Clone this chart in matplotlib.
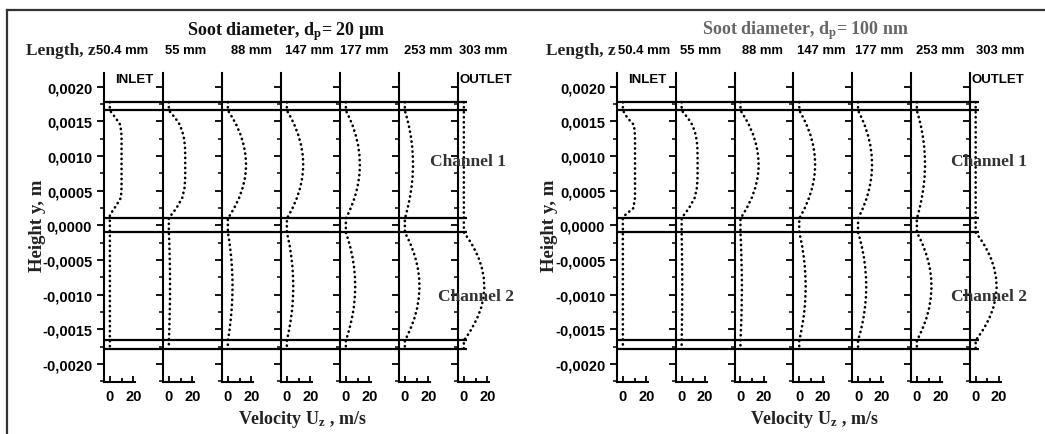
import matplotlib
matplotlib.use("Agg")
import matplotlib.pyplot as plt
from matplotlib.lines import Line2D
from matplotlib.ticker import FuncFormatter, MultipleLocator

plt.rcParams["mathtext.fontset"] = "custom"
plt.rcParams["mathtext.rm"] = "Liberation Serif:bold"
plt.rcParams["mathtext.it"] = "Liberation Serif:bold"
plt.rcParams["mathtext.bf"] = "Liberation Serif:bold"

SERIF = "Liberation Serif"
SANS = "Liberation Sans"

# ---------- data ----------
positions = ["50.4 mm", "55 mm", "88 mm", "147 mm", "177 mm", "253 mm", "303 mm"]
walls = [0.00178, 0.00166, 0.0001, -0.0001, -0.00166, -0.00178]

# y stations across channel 1 (upper) and channel 2 (lower), m
y_ch1 = [0.00166, 0.00155, 0.00145, 0.00130, 0.00115, 0.00100, 0.00085,
         0.00070, 0.00055, 0.00040, 0.00025, 0.00015, 0.00010]
y_ch2 = [-0.00010, -0.00020, -0.00030, -0.00045, -0.00060, -0.00075, -0.00090,
         -0.00105, -0.00120, -0.00135, -0.00150, -0.00160, -0.00166]
y_wall = [0.00178, 0.0, -0.00178]

# velocity U_z (m/s), soot d_p = 20 um
u1_20um = [
    [0, 5.0, 9.0, 10.0, 10.0, 10.0, 10.0, 10.0, 10.0, 9.5, 4.0, 0, 0],
    [0, 5.5, 9.5, 12.5, 13.8, 14.0, 14.0, 14.0, 13.5, 11.5, 6.5, 2.0, 0],
    [0, 4.1, 7.3, 11.1, 13.7, 15.2, 15.6, 14.8, 12.8, 9.7, 5.4, 1.9, 0],
    [0, 3.7, 6.5, 9.9, 12.3, 13.7, 14.0, 13.3, 11.5, 8.7, 4.9, 1.7, 0],
    [0, 3.1, 5.6, 8.5, 10.6, 11.7, 12.0, 11.4, 9.9, 7.5, 4.2, 1.5, 0],
    [0, 1.8, 3.3, 5.0, 6.2, 6.8, 7.0, 6.6, 5.7, 4.3, 2.4, 0.9, 0],
    [0, 0, 0, 0, 0, 0, 0, 0, 0, 0, 0, 0, 0],
]
u2_20um = [
    [0, 0, 0, 0, 0, 0, 0, 0, 0, 0, 0, 0, 0],
    [0, 0.3, 0.5, 0.7, 0.9, 1.0, 1.0, 1.0, 0.8, 0.6, 0.4, 0.2, 0],
    [0, 1.0, 1.8, 2.8, 3.5, 3.9, 4.0, 3.8, 3.3, 2.5, 1.5, 0.6, 0],
    [0, 1.3, 2.5, 3.8, 4.8, 5.3, 5.5, 5.2, 4.6, 3.5, 2.0, 0.8, 0],
    [0, 1.9, 3.6, 5.6, 7.0, 7.8, 8.0, 7.6, 6.7, 5.1, 2.9, 1.2, 0],
    [0, 3.0, 5.6, 8.7, 10.9, 12.2, 12.5, 11.9, 10.4, 8.0, 4.6, 1.9, 0],
    [0, 4.2, 7.8, 12.2, 15.2, 17.0, 17.5, 16.7, 14.6, 11.1, 6.4, 2.6, 0],
]

# velocity U_z (m/s), soot d_p = 100 nm
u1_100nm = [
    [0, 4.0, 9.5, 10.4, 10.4, 10.4, 10.4, 10.4, 10.4, 10.4, 9.0, 2.0, 0],
    [0, 5.3, 9.2, 12.2, 13.4, 13.6, 13.6, 13.6, 13.1, 11.2, 6.3, 1.9, 0],
    [0, 4.1, 7.3, 11.1, 13.7, 15.2, 15.6, 14.8, 12.8, 9.7, 5.4, 1.9, 0],
    [0, 3.6, 6.3, 9.7, 12.0, 13.3, 13.6, 12.9, 11.2, 8.4, 4.7, 1.7, 0],
    [0, 3.1, 5.6, 8.5, 10.6, 11.7, 12.0, 11.4, 9.9, 7.5, 4.2, 1.5, 0],
    [0, 1.8, 3.3, 5.0, 6.2, 6.8, 7.0, 6.6, 5.7, 4.3, 2.4, 0.9, 0],
    [0, 0, 0, 0, 0, 0, 0, 0, 0, 0, 0, 0, 0],
]
u2_100nm = [
    [0, 0, 0, 0, 0, 0, 0, 0, 0, 0, 0, 0, 0],
    [0, 0.1, 0.2, 0.3, 0.4, 0.5, 0.5, 0.5, 0.4, 0.3, 0.2, 0.1, 0],
    [0, 0.3, 0.5, 0.8, 1.0, 1.2, 1.2, 1.1, 1.0, 0.8, 0.4, 0.2, 0],
    [0, 1.3, 2.5, 3.8, 4.8, 5.3, 5.5, 5.2, 4.6, 3.5, 2.0, 0.8, 0],
    [0, 1.7, 3.1, 4.9, 6.1, 6.8, 7.0, 6.7, 5.8, 4.5, 2.6, 1.0, 0],
    [0, 3.0, 5.6, 8.7, 10.9, 12.2, 12.5, 11.9, 10.4, 8.0, 4.6, 1.9, 0],
    [0, 4.3, 8.0, 12.5, 15.6, 17.4, 17.9, 17.0, 14.9, 11.4, 6.6, 2.6, 0],
]

# ---------- layout (pixels of a 1045x435 canvas) ----------
W, H = 1045, 435
AX_TOP, AX_BOT, AX_W = 74, 383, 31
YLIM = (-0.00226, 0.0022)
XLIM = (-5, 21.5)


def fx(x):
    return x / W


def fy(y):
    return 1 - y / H


fig = plt.figure(figsize=(W / 100, H / 100), dpi=100)

# outer frame
fig.add_artist(Line2D([fx(7), fx(7)], [fy(11), 0], transform=fig.transFigure, color="#333", lw=1.6))
fig.add_artist(Line2D([fx(7), 1], [fy(11), fy(11)], transform=fig.transFigure, color="#333", lw=1.6))

panels = [
    dict(x0=104, step=59, u1=u1_20um, u2=u2_20um,
         title=r"Soot diameter, d$_{\rm p}$= 20 µm", tx=286, ty=32, tcol="#111",
         len_x=97, lab_x=[122, 186, 251, 309, 364, 428, 483],
         ylab_x=37, xlab_x=302, ch_x=(430, 438)),
    dict(x0=617, step=58.8, u1=u1_100nm, u2=u2_100nm,
         title=r"Soot diameter, d$_{\rm p}$= 100 nm", tx=806, ty=31, tcol="#666",
         len_x=617, lab_x=[644, 701, 762, 821, 879, 940, 1000],
         ylab_x=550, xlab_x=814, ch_x=(951, 951)),
]

fmt = FuncFormatter(lambda v, p: f"{v:.4f}".replace(".", ","))

for P in panels:
    x0, step = P["x0"], P["step"]
    # background axes for channel walls spanning all stations
    right = x0 + 6 * step + 9
    bg = fig.add_axes([fx(x0), fy(AX_BOT), fx(right - x0), (AX_BOT - AX_TOP) / H])
    bg.set_xlim(0, 1)
    bg.set_ylim(*YLIM)
    bg.axis("off")
    bg.hlines(walls, 0, 1, color="black", lw=1.6)

    for i in range(7):
        xl = x0 + i * step
        ax = fig.add_axes([fx(xl), fy(AX_BOT), AX_W / W, (AX_BOT - AX_TOP) / H])
        ax.patch.set_alpha(0)
        ax.set_xlim(*XLIM)
        ax.set_ylim(*YLIM)
        for s in ("top", "right"):
            ax.spines[s].set_visible(False)
        for s in ("left", "bottom"):
            ax.spines[s].set_linewidth(1.5)
        ys = [y_wall[0]] + y_ch1 + [y_wall[1]] + y_ch2 + [y_wall[2]]
        us = [0] + P["u1"][i] + [0] + P["u2"][i] + [0]
        ax.plot(us, ys, color="black", lw=1.9, linestyle=(0, (0.1, 1.8)),
                dash_capstyle="round", clip_on=False)
        ax.yaxis.set_major_locator(MultipleLocator(0.0005))
        ax.yaxis.set_minor_locator(MultipleLocator(0.00025))
        ax.xaxis.set_major_locator(MultipleLocator(20))
        ax.xaxis.set_minor_locator(MultipleLocator(10))
        ax.tick_params(axis="y", which="major", direction="out", length=5, width=1.3)
        ax.tick_params(axis="y", which="minor", direction="out", length=3, width=1.1)
        ax.tick_params(axis="x", which="both", direction="in", length=4, width=1.3, pad=5)
        ax.tick_params(axis="x", which="minor", length=3)
        for lab in ax.get_xticklabels():
            lab.set_fontfamily(SANS)
            lab.set_fontweight("bold")
            lab.set_fontsize(10.5)
        if i == 0:
            ax.yaxis.set_major_formatter(fmt)
            for lab in ax.get_yticklabels():
                lab.set_fontfamily(SANS)
                lab.set_fontweight("bold")
                lab.set_fontsize(10.5)
        else:
            ax.set_yticklabels([])
        fig.text(fx(P["lab_x"][i]), fy(51), positions[i], ha="center", va="center",
                 fontfamily=SANS, fontweight="bold", fontsize=9.4)

    fig.text(fx(P["len_x"] - 1), fy(51), "Length, z", ha="right", va="center",
             fontfamily=SERIF, fontweight="bold", fontsize=12.5, color="#222")
    fig.text(fx(x0 + 11), fy(80), "INLET", ha="left", va="center",
             fontfamily=SANS, fontweight="bold", fontsize=9.5)
    fig.text(fx(x0 + 6 * step + 2), fy(80), "OUTLET", ha="left", va="center",
             fontfamily=SANS, fontweight="bold", fontsize=9.5)
    fig.text(fx(P["tx"]), fy(P["ty"]), P["title"], ha="center", va="center",
             fontfamily=SERIF, fontweight="bold", fontsize=13, color=P["tcol"])
    fig.text(fx(P["ylab_x"]), fy(226), "Height y, m", ha="center", va="center", rotation=90,
             fontfamily=SERIF, fontweight="bold", fontsize=13.5, color="#222")
    fig.text(fx(P["xlab_x"]), fy(420), r"Velocity U$_{\rm z}$ , m/s", ha="center", va="center",
             fontfamily=SERIF, fontweight="bold", fontsize=13, color="#222")
    fig.text(fx(P["ch_x"][0]), fy(162), "Channel 1", ha="left", va="center",
             fontfamily=SERIF, fontweight="bold", fontsize=12.5, color="#333")
    fig.text(fx(P["ch_x"][1]), fy(297), "Channel 2", ha="left", va="center",
             fontfamily=SERIF, fontweight="bold", fontsize=12.5, color="#333")

fig.savefig("out.png", dpi=100)
